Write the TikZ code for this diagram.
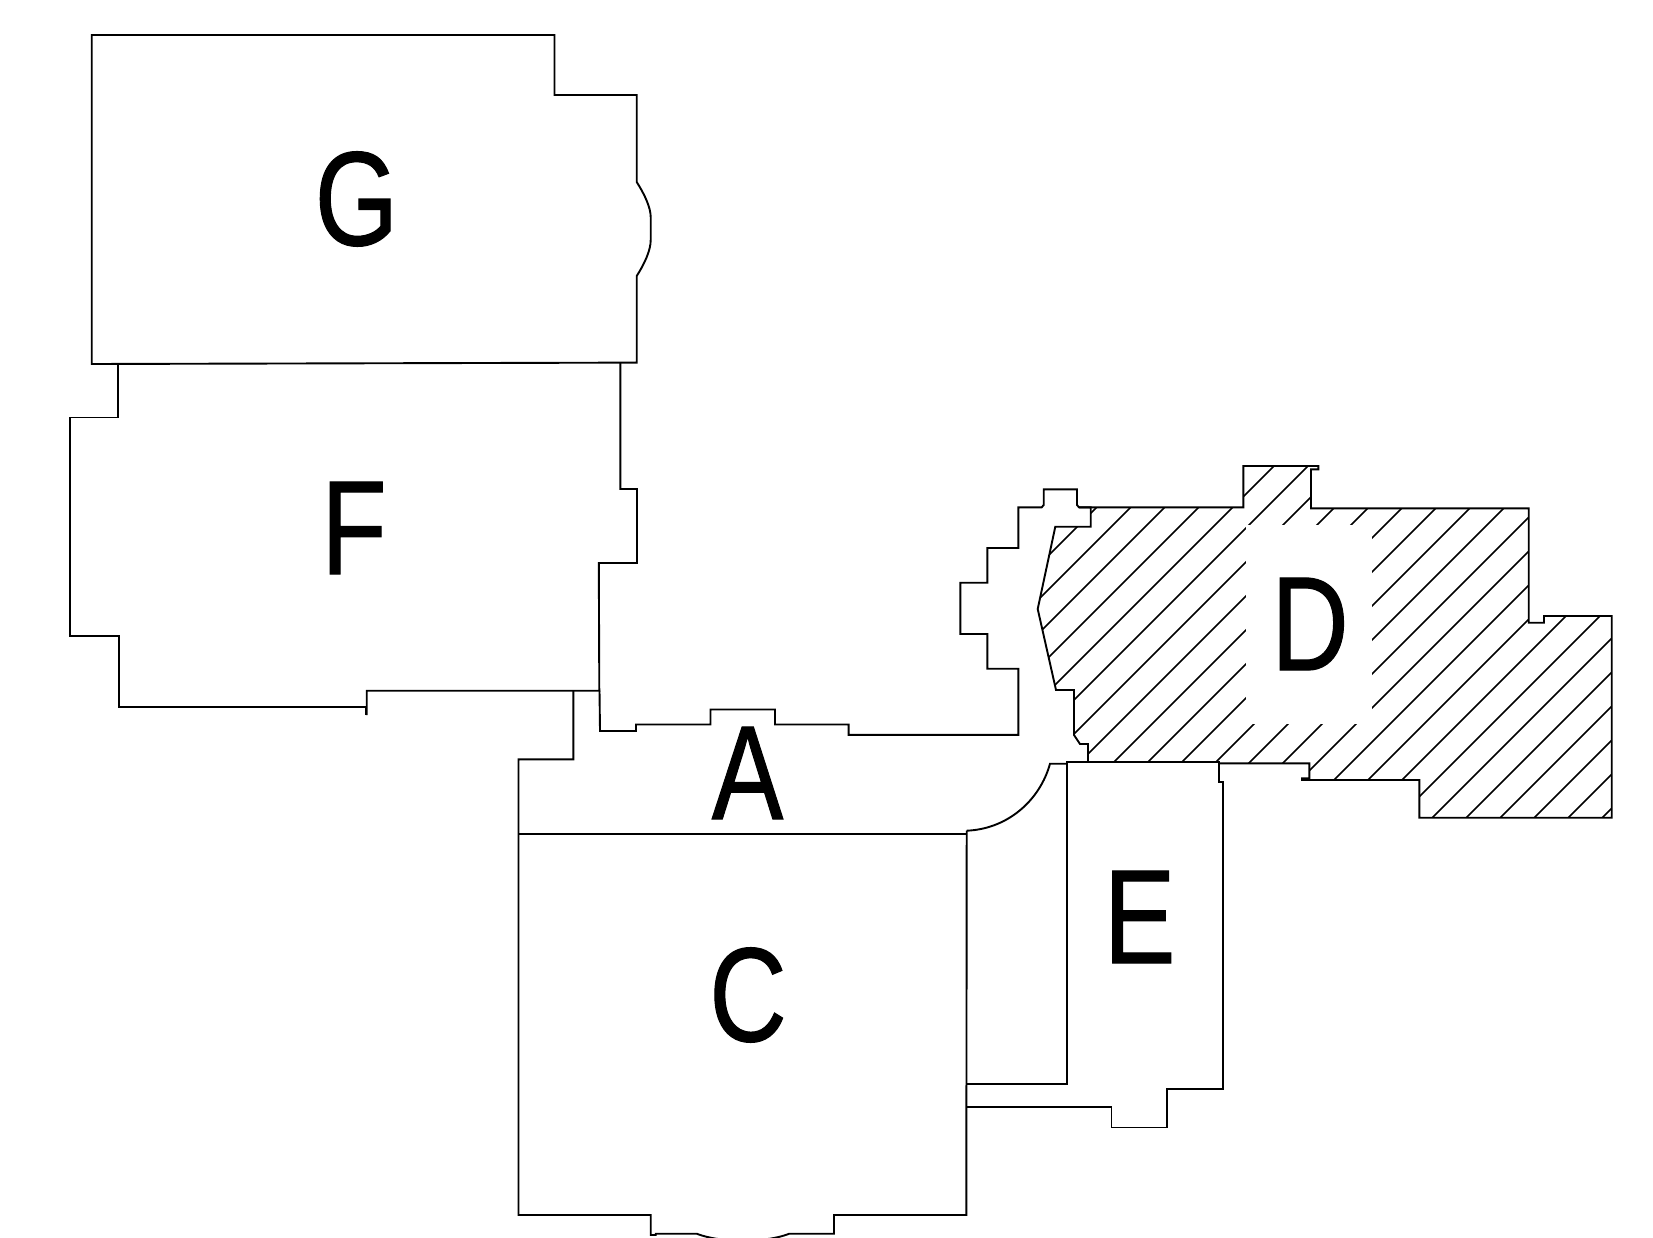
\documentclass[tikz,border=0pt]{standalone}
\usepackage{fontspec}
\setmainfont{Liberation Sans}
\newfontfamily\labelfont[RawFeature={embolden=0.9}]{Liberation Sans}
\tikzset{
  wall/.style={draw=black,line width=1.9pt,line join=miter},
  hatchline/.style={draw=black,line width=1.5pt},
  letter/.style={inner sep=0pt,xscale=0.8,font=\labelfont\fontsize{134}{134}\selectfont}
}
\begin{document}
\begin{tikzpicture}[x=1pt,y=-1pt]
\useasboundingbox (0,0) rectangle (1653,1238);
\clip (0,0) rectangle (1653,1238);
% hatching of D
\begin{scope}
\clip (1090.7,507.3) -- (1243.3,507.3) -- (1243.3,466) -- (1318.3,466) -- (1318.3,469.3) -- (1311,469.3) -- (1311,508.3) -- (1528.7,508.3) -- (1528.7,622.7) -- (1544,622.7) -- (1544,616) -- (1611.7,616) -- (1611.7,817.7) -- (1419.3,817.7) -- (1419.3,780) -- (1302,780) -- (1302,778.3) -- (1309.3,778.3) -- (1309.3,763.3) -- (1218.3,763.3) -- (1218.3,761.7) -- (1088,761.7) -- (1088,744) -- (1080,744) -- (1074,735) -- (1074,690) -- (1056,690) -- (1037.7,609) -- (1055.3,526.7) -- (1090.7,526.7) -- cycle;
\foreach \k in {0,...,24} {
  \pgfmathsetmacro{\c}{1604+34*\k}
  \draw[hatchline] (\c-300,300) -- (\c-900,900);
}
\fill[white] (1246,525) rectangle (1372.3,724.3);
\end{scope}
% G
\draw[wall] (91.7,35) -- (554.5,35) -- (554.5,95) -- (636.7,95) -- (636.7,182)
  .. controls (645,195) and (650.7,208) .. (650.7,217) -- (650.7,240)
  .. controls (650.7,250) and (645,263) .. (636.7,276) -- (636.7,362.6) -- (91.7,364) -- cycle;
% F
\draw[wall] (118,364) -- (118,417.5) -- (69.6,417.5) -- (69.6,635.7) -- (118.6,635.7) -- (118.6,707.4) -- (366,707.4) -- (366,715);
\draw[wall] (366.7,715) -- (366.7,690.7) -- (599.3,690.7) -- (598.8,563) -- (637,563) -- (637,489) -- (620.4,489) -- (620.4,362.6);
% A and the outline running on to D
\draw[wall] (599.5,690.7) -- (600,731) -- (636,731) -- (636,724.5) -- (710.5,724.5) -- (710.5,709.5) -- (775,709.5) -- (775,724.5) -- (848.6,724.5) -- (848.6,734.8) -- (1018.3,734.8) -- (1018.3,668.7) -- (987.3,668.7) -- (987.3,634) -- (960.3,634) -- (960.3,582.7) -- (987.3,582.7) -- (987.3,548) -- (1018.3,548) -- (1018.3,507.3) -- (1041.7,507.3) -- (1043.7,505) -- (1043.7,489.3) -- (1077,489.3) -- (1077,505) -- (1079,507.3) -- (1243.3,507.3) -- (1243.3,466) -- (1318.3,466) -- (1318.3,469.3) -- (1311,469.3) -- (1311,508.3) -- (1528.7,508.3) -- (1528.7,622.7) -- (1544,622.7) -- (1544,616) -- (1611.7,616) -- (1611.7,817.7) -- (1419.3,817.7) -- (1419.3,780) -- (1302,780) -- (1302,778.3) -- (1309.3,778.3) -- (1309.3,763.3) -- (1218.3,763.3);
% D inner boundary
\draw[wall] (1079,507.3) -- (1090.7,507.3) -- (1090.7,526.7) -- (1055.3,526.7) -- (1037.7,609) -- (1056,690) -- (1074,690) -- (1074,735) -- (1080,744) -- (1088,744) -- (1088,761.7);
% C
\draw[wall] (573.3,690.7) -- (573.3,759.3) -- (518.5,759.3) -- (518.5,1215) -- (650.7,1215) -- (650.7,1235) -- (655.7,1235) -- (655.7,1233.7) -- (696.7,1233.7)
  .. controls (720,1243) and (766,1243) .. (789.3,1233.7) -- (834,1233.7) -- (834,1215) -- (966.3,1215) -- (966.7,830.7);
\draw[wall] (518.5,834) -- (966.7,834);
% A corner curve
\draw[wall] (966.7,830.7) .. controls (1008,829) and (1040,800) .. (1050,763.7) -- (1066.7,763.7);
% E
\draw[wall] (966.7,1083.7) -- (1066.7,1083.7) -- (1066.7,761.7) -- (1218.7,761.7) -- (1218.7,781.7) -- (1223.3,781.7) -- (1223.3,1089) -- (1167,1089) -- (1167,1127.5) -- (1111.5,1127.5) -- (1111.5,1107) -- (966.3,1107);
% letters
\node[letter] (labelG) at (356.5,199) {G};
\node[letter] (labelF) at (354,528) {F};
\node[letter] (labelA) at (747.5,773) {A};
\node[letter] (labelD) at (1310,624) {D};
\node[letter] (labelC) at (748,995) {C};
\node[letter] (labelE) at (1139.6,917) {E};
\end{tikzpicture}
\end{document}
